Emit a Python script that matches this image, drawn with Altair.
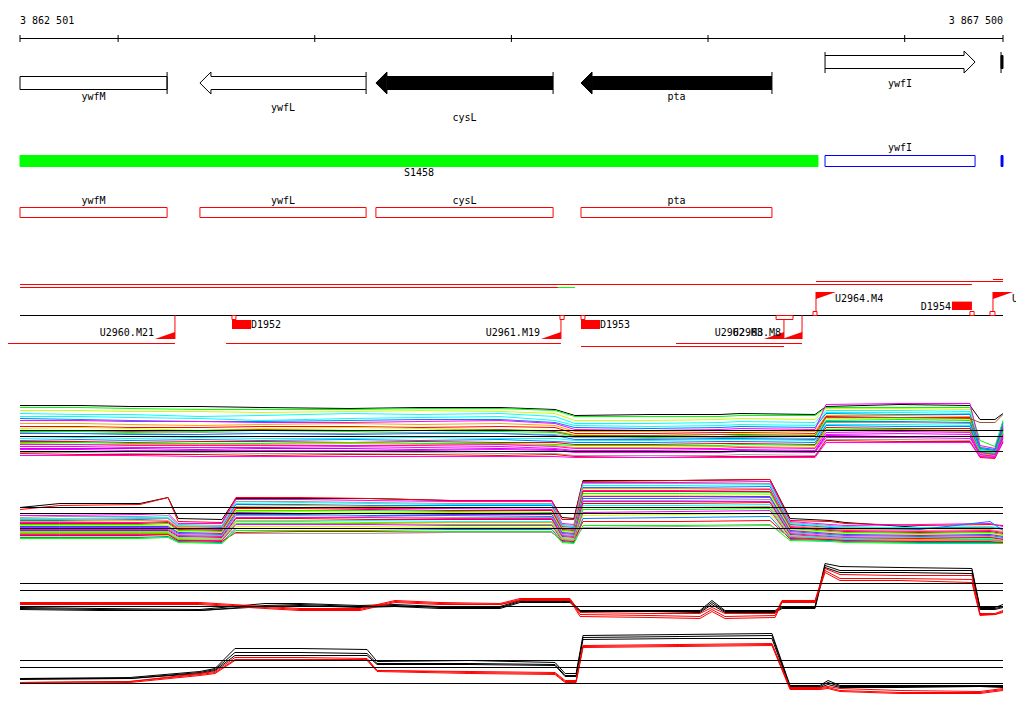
import altair as alt
import pandas as pd

# ---------------- data ----------------
VIEW_START, VIEW_END = 3862501, 3867500
axis_ticks = [3862501, 3863000, 3864000, 3865000, 3866000, 3867000, 3867500]

gene_names  = ["ywfM", "ywfL", "cysL", "pta", "ywfI", ""]
gene_starts = [3862501, 3863416, 3864311, 3865354, 3866595, 3867490]
gene_ends   = [3863249, 3864261, 3865212, 3866325, 3867358, 3867500]
gene_strand = ["-", "-", "-", "-", "+", "+"]
gene_kind   = ["open", "open", "solid", "solid", "open", "solid"]

seg_names  = ["S1458", "ywfI", ""]
seg_starts = [3862501, 3866595, 3867490]
seg_ends   = [3866559, 3867358, 3867500]
seg_kind   = ["segment", "cds", "cds_cut"]

box_names  = ["ywfM", "ywfL", "cysL", "pta"]
box_starts = [3862501, 3863416, 3864311, 3865354]
box_ends   = [3863249, 3864261, 3865212, 3866325]

tu_starts = [3862501, 3862501, 3865237, 3866549, 3867449, 3862380, 3863549, 3865354, 3865837]
tu_ends   = [3867342, 3865237, 3865323, 3867500, 3867500, 3863289, 3865252, 3866386, 3866478]
tu_lane   = ["up2", "up3", "up3", "up1", "up0", "dn1", "dn1", "dn2", "dn1"]
tu_class  = ["a", "a", "b", "a", "a", "a", "a", "a", "a"]

site_starts = [3863579, 3865247, 3865354, 3866346, 3866534, 3867332, 3867434]
site_ends   = [3863599, 3865268, 3865374, 3866432, 3866554, 3867353, 3867459]
site_strand = ["-", "-", "-", "-", "+", "+", "+"]

flag_names  = ["U2960.M21", "U2961.M19", "U2962.M8", "U2963.M8", "U2964.M4", "U2965.M1"]
flag_pos    = [3863289, 3865252, 3866386, 3866478, 3866549, 3867449]
flag_strand = ["-", "-", "-", "-", "+", "+"]

term_names  = ["D1952", "D1953", "D1954"]
term_pos    = [3863579, 3865354, 3867342]
term_strand = ["-", "-", "+"]

# ---- profile track A ----
gridA = [3862501, 3862806, 3863060, 3863416, 3863722, 3864179, 3864535, 3864942, 3865222, 3865323,
         3865705, 3866061, 3866163, 3866544, 3866600, 3866976, 3867332, 3867383, 3867459, 3867500]
valsA = [
    [55, 55, 54, 54, 53, 52, 53, 53, 51, 45, 46, 46, 47, 46, 54, 56, 55, 41, 41, 47],
    [53, 53, 52, 51, 51, 51, 52, 52, 50, 44, 44, 44, 45, 45, 53, 53, 53, 20, 14, 40],
    [50, 50, 49, 49, 48, 49, 50, 49, 47, 40, 40, 41, 42, 41, 52, 52, 51, 14, 10, 38],
    [47, 46, 46, 44, 45, 47, 46, 47, 44, 37, 37, 38, 39, 38, 50, 50, 49, 12, 10, 36],
    [44, 44, 43, 42, 40, 42, 43, 44, 40, 35, 34, 35, 36, 35, 48, 48, 47, 10, 8, 34],
    [42, 41, 40, 39, 39, 40, 41, 41, 38, 33, 32, 33, 34, 33, 47, 46, 46, 13, 11, 33],
    [40, 40, 39, 39, 38, 38, 39, 40, 37, 31, 30, 31, 32, 31, 56, 57, 57, 15, 12, 35],
    [37, 37, 36, 35, 36, 37, 36, 37, 35, 29, 29, 30, 30, 29, 45, 45, 44, 8, 6, 30],
    [34, 34, 33, 33, 34, 34, 33, 34, 33, 27, 27, 28, 28, 27, 44, 43, 43, 9, 7, 32],
    [32, 33, 32, 30, 32, 33, 32, 31, 30, 26, 25, 26, 27, 26, 42, 42, 41, 7, 5, 28],
    [29, 29, 28, 29, 30, 29, 28, 29, 28, 24, 23, 24, 25, 24, 40, 41, 40, 11, 9, 30],
    [28, 27, 27, 28, 27, 27, 28, 27, 26, 23, 22, 23, 23, 22, 38, 38, 37, 6, 5, 27],
    [22, 23, 22, 23, 22, 22, 23, 22, 22, 20, 20, 21, 21, 20, 36, 36, 35, 10, 8, 29],
    [20, 21, 20, 21, 20, 21, 20, 21, 19, 18, 18, 19, 19, 18, 35, 34, 34, 8, 6, 31],
    [19, 19, 18, 19, 19, 18, 19, 18, 18, 16, 16, 17, 17, 16, 33, 32, 32, 5, 4, 26],
    [18, 18, 17, 17, 17, 18, 17, 17, 16, 15, 15, 15, 16, 15, 31, 31, 30, 9, 7, 28],
    [17, 16, 16, 16, 16, 17, 16, 16, 15, 13, 13, 14, 14, 13, 30, 30, 29, 7, 5, 25],
    [16, 16, 15, 15, 15, 15, 15, 16, 14, 12, 12, 12, 13, 12, 28, 29, 28, 6, 4, 24],
    [14, 14, 13, 13, 13, 14, 13, 14, 12, 10, 10, 11, 11, 10, 26, 27, 26, 5, 4, 23],
    [12, 12, 12, 11, 12, 12, 11, 12, 11, 9, 9, 9, 10, 9, 25, 24, 24, 4, 3, 22],
    [11, 11, 10, 10, 10, 10, 10, 11, 10, 8, 8, 8, 9, 8, 23, 23, 22, 8, 6, 26],
    [8, 8, 7, 8, 7, 7, 8, 7, 7, 5, 5, 5, 6, 5, 21, 21, 20, 5, 3, 20],
    [7, 6, 6, 6, 5, 6, 6, 5, 6, 4, 3, 4, 4, 4, 20, 19, 19, 3, 2, 19],
    [5, 5, 5, 4, 4, 4, 4, 4, 4, 3, 3, 3, 3, 3, 18, 18, 18, 4, 3, 18],
    [30, 30, 29, 30, 31, 30, 30, 31, 29, 25, 25, 26, 26, 25, 43, 43, 42, 38, 38, 46],
    [27, 27, 26, 26, 27, 26, 27, 27, 25, 21, 21, 22, 22, 21, 39, 39, 38, 12, 10, 38],
]
colorsA = ["black", "#00ff00", "#ccff00", "#00ffff", "#00ffff", "#0080ff", "#ff00ff", "#ffa500",
           "#ff0000", "#ccff00", "#00ff00", "#a0a0a0", "#00ffff", "#0080ff", "#ff0000", "#00ff00",
           "#ffa500", "#ff00ff", "#ff00ff", "#c000ff", "#ff00ff", "#a0a0a0", "#ff0000", "#ff00ff",
           "#a0522d", "#0080ff"]
refA = [30, 24, 9]

# ---- profile track B ----
gridB = [3862501, 3862704, 3863111, 3863254, 3863305, 3863528, 3863599, 3863925, 3864281, 3864688, 3865206,
         3865257, 3865318, 3865364, 3865857, 3866315, 3866417, 3866620, 3866697, 3867078, 3867434, 3867500]
valsB = [
    [38, 42, 42, 48, 27, 26, 47, 47, 47, 45, 44, 28, 27, 65, 65, 66, 27, 25, 23, 18, 18, 17],
    [36, 40, 41, 48, 24, 23, 48, 48, 47, 45, 45, 26, 26, 64, 65, 66, 25, 24, 22, 20, 21, 20],
    [30, 30, 31, 32, 22, 22, 46, 46, 45, 44, 44, 22, 21, 63, 63, 64, 24, 21, 20, 21, 22, 19],
    [28, 29, 29, 30, 21, 20, 44, 44, 43, 42, 42, 21, 20, 62, 62, 62, 23, 20, 19, 17, 18, 16],
    [27, 27, 28, 28, 20, 19, 42, 43, 42, 41, 41, 20, 19, 60, 60, 61, 22, 19, 18, 18, 19, 17],
    [25, 25, 26, 27, 19, 18, 41, 41, 40, 40, 40, 19, 18, 58, 58, 59, 21, 18, 17, 16, 24, 15],
    [24, 24, 25, 25, 18, 17, 39, 40, 39, 38, 38, 18, 17, 57, 57, 57, 20, 17, 16, 15, 16, 14],
    [23, 23, 23, 24, 17, 16, 38, 38, 37, 37, 36, 17, 16, 55, 55, 56, 19, 16, 15, 14, 15, 13],
    [22, 22, 22, 23, 16, 15, 37, 37, 36, 35, 35, 16, 15, 54, 54, 54, 18, 15, 14, 13, 14, 12],
    [21, 21, 21, 22, 15, 14, 35, 35, 35, 34, 33, 15, 14, 52, 52, 53, 17, 14, 13, 12, 13, 11],
    [20, 20, 20, 20, 14, 13, 34, 34, 33, 33, 32, 14, 13, 50, 50, 51, 16, 13, 12, 11, 12, 10],
    [19, 19, 19, 19, 13, 12, 33, 32, 32, 31, 31, 13, 12, 49, 49, 49, 15, 12, 11, 10, 11, 9],
    [18, 18, 18, 18, 12, 11, 31, 31, 30, 30, 29, 12, 11, 47, 47, 48, 14, 11, 10, 9, 10, 8],
    [17, 17, 17, 17, 11, 10, 30, 30, 29, 28, 28, 11, 10, 45, 45, 46, 13, 10, 9, 8, 9, 7],
    [16, 16, 16, 16, 10, 9, 28, 28, 28, 27, 27, 10, 9, 44, 44, 44, 12, 9, 8, 7, 8, 6],
    [15, 15, 15, 15, 9, 8, 27, 27, 26, 26, 26, 9, 8, 42, 42, 43, 11, 8, 7, 7, 8, 6],
    [14, 14, 14, 14, 8, 7, 25, 25, 25, 24, 24, 8, 7, 40, 40, 41, 10, 8, 7, 6, 7, 5],
    [13, 13, 13, 13, 7, 6, 24, 24, 23, 23, 23, 7, 6, 38, 38, 39, 9, 7, 6, 6, 6, 5],
    [12, 12, 12, 12, 6, 5, 22, 22, 22, 21, 21, 6, 5, 36, 36, 37, 8, 6, 5, 5, 6, 4],
    [11, 11, 11, 11, 5, 5, 21, 21, 21, 20, 20, 5, 4, 33, 34, 35, 8, 6, 5, 4, 5, 4],
    [9, 9, 9, 10, 4, 3, 19, 19, 19, 18, 18, 4, 3, 30, 31, 32, 7, 5, 4, 3, 4, 3],
    [8, 8, 8, 9, 4, 3, 17, 17, 17, 16, 16, 4, 3, 27, 28, 29, 6, 5, 4, 3, 3, 3],
    [10, 10, 10, 11, 5, 4, 13, 14, 14, 13, 13, 5, 4, 24, 24, 25, 7, 6, 5, 4, 4, 3],
    [7, 7, 7, 8, 3, 2, 15, 15, 15, 14, 14, 3, 2, 20, 20, 21, 5, 4, 3, 2, 2, 2],
    [26, 26, 27, 27, 19, 19, 12, 12, 12, 13, 13, 6, 5, 18, 19, 20, 9, 7, 6, 5, 5, 4],
]
colorsB = ["black", "#ff0000", "#ff00ff", "#a0a0a0", "#00ffff", "#0080ff", "#ffa500", "#ff00ff",
           "#ff0000", "#00ff00", "#ccff00", "#c000ff", "#0080ff", "#a0a0a0", "#ff00ff", "#ff0000",
           "#00ffff", "#ffa500", "#00ff00", "#ff00ff", "#ccff00", "#0080ff", "#ff0000", "#00ff00",
           "#a0a0a0"]
refB = [38, 32, 17]

# ---- profile track C ----
gridC = [3862501, 3862908, 3863416, 3863747, 3863925, 3864230, 3864408, 3864637, 3864942, 3865044,
         3865298, 3865349, 3865705, 3865959, 3866020, 3866086, 3866341, 3866376, 3866544, 3866595,
         3866671, 3866976, 3867342, 3867383, 3867459, 3867500]
valsC = [
    [13, 12, 11, 17, 17, 15, 16, 14, 14, 20, 20, 10, 10, 10, 20, 10, 10, 14, 14, 57, 54, 53, 52, 13, 13, 16],
    [12, 11, 10, 15, 16, 14, 15, 13, 13, 19, 19, 10, 9, 9, 18, 9, 9, 13, 13, 55, 50, 50, 50, 12, 12, 14],
    [11, 10, 10, 14, 15, 13, 14, 12, 12, 18, 18, 9, 9, 8, 16, 8, 8, 12, 12, 53, 48, 48, 47, 11, 11, 13],
    [18, 18, 18, 14, 12, 12, 20, 18, 17, 22, 22, 8, 7, 7, 13, 7, 7, 20, 20, 52, 46, 45, 45, 7, 7, 10],
    [17, 17, 17, 13, 11, 11, 19, 17, 16, 21, 21, 6, 5, 4, 11, 4, 5, 19, 19, 50, 42, 42, 41, 6, 6, 9],
    [16, 16, 16, 12, 10, 10, 18, 16, 16, 20, 20, 4, 3, 2, 9, 2, 3, 18, 18, 48, 40, 40, 38, 5, 6, 8],
]
colorsC = ["black", "black", "black", "#ff0000", "#ff0000", "#ff0000"]
refC = [37, 30, 14]

# ---- profile track D ----
gridD = [3862501, 3863060, 3863416, 3863493, 3863594, 3863925, 3864266, 3864317, 3864789, 3865222, 3865273,
         3865329, 3865364, 3865857, 3866325, 3866417, 3866569, 3866610, 3866671, 3866976, 3867383, 3867500]
valsD = [
    [17, 18, 24, 27, 47, 47, 46, 34, 35, 33, 22, 22, 60, 61, 62, 10, 10, 15, 10, 10, 10, 10],
    [17, 17, 23, 26, 43, 43, 42, 32, 32, 31, 20, 20, 58, 59, 60, 9, 9, 13, 9, 9, 9, 9],
    [16, 17, 22, 25, 40, 40, 40, 31, 31, 30, 19, 19, 56, 57, 57, 8, 8, 11, 8, 8, 9, 8],
    [13, 14, 22, 24, 38, 38, 37, 25, 24, 23, 15, 15, 50, 51, 52, 8, 8, 9, 7, 5, 4, 7],
    [13, 14, 21, 23, 36, 36, 36, 25, 23, 22, 14, 14, 49, 50, 51, 7, 7, 8, 5, 3, 3, 6],
    [12, 13, 20, 22, 35, 35, 35, 24, 22, 21, 13, 13, 48, 49, 50, 6, 6, 7, 4, 2, 2, 5],
]
colorsD = ["black", "black", "black", "#ff0000", "#ff0000", "#ff0000"]
refD = [35, 28, 12]

# ---------------- layout / style ----------------
W, H = 1008, 698
FONT = "DejaVu Sans Mono"
FS = 10
xs = alt.Scale(domain=[VIEW_START, VIEW_END], range=[12, 995])


def X(field):
    return alt.X(f"{field}:Q", scale=xs, axis=None)


def fmt(n):
    return f"{n:,}".replace(",", " ")


layers = []

# ---- coordinate ruler ----
span = pd.DataFrame({"a": [VIEW_START], "b": [VIEW_END]})
layers.append(alt.Chart(span).mark_rule(color="black").encode(x=X("a"), x2="b:Q", y=alt.value(30.5)))
layers.append(alt.Chart(pd.DataFrame({"pos": axis_ticks})).mark_rule(color="black").encode(
    x=X("pos"), y=alt.value(27), y2=alt.value(34)))
ends = pd.DataFrame({"pos": [VIEW_START, VIEW_END], "label": [fmt(VIEW_START), fmt(VIEW_END)]})
layers.append(alt.Chart(ends.iloc[[0]]).mark_text(font=FONT, fontSize=FS, align="left", baseline="alphabetic",
                                                   color="black").encode(x=X("pos"), y=alt.value(16), text="label:N"))
layers.append(alt.Chart(ends.iloc[[1]]).mark_text(font=FONT, fontSize=FS, align="right", baseline="alphabetic",
                                                   color="black").encode(x=X("pos"), y=alt.value(16), text="label:N"))

# ---- genes ----
genes = pd.DataFrame({"name": gene_names, "start": gene_starts, "end": gene_ends,
                      "strand": gene_strand, "kind": gene_kind})
genes["mid"] = (genes["start"] + genes["end"]) / 2
fill_kind = alt.Fill("kind:N", scale=alt.Scale(domain=["open", "solid"], range=["white", "black"]), legend=None)
HEAD = 11
LEFT_HEAD = "M1,-0.6 L1,-1 L0,0 L1,1 L1,0.6"
RIGHT_HEAD = "M-1,-0.6 L-1,-1 L0,0 L-1,1 L-1,0.6"
lanes = {"-": dict(top=68.5, bot=81.5, btop=64, bbot=86, c=75),
         "+": dict(top=47.5, bot=60.5, btop=44, bbot=65, c=54)}

for strand in ["-", "+"]:
    L = lanes[strand]
    g = genes[genes["strand"] == strand]
    if strand == "-":
        headed = g[g["start"] > VIEW_START]
        cut = g[g["start"] <= VIEW_START]
        tip, bar, shape, offs = "start", "end", LEFT_HEAD, dict(xOffset=HEAD)
    else:
        headed = g[g["end"] < VIEW_END]
        cut = g[g["end"] >= VIEW_END]
        tip, bar, shape, offs = "end", "start", RIGHT_HEAD, dict(x2Offset=-HEAD)
    if len(headed):
        layers.append(alt.Chart(headed).mark_rect(strokeWidth=0, **offs).encode(
            x=X("start"), x2="end:Q", y=alt.value(L["top"]), y2=alt.value(L["bot"]), fill=fill_kind))
        for yy in (L["top"], L["bot"]):
            layers.append(alt.Chart(headed).mark_rule(color="black", **offs).encode(
                x=X("start"), x2="end:Q", y=alt.value(yy)))
        layers.append(alt.Chart(headed).mark_point(shape=shape, size=(2 * HEAD) ** 2, filled=True, opacity=1,
                                                   stroke="black", strokeWidth=1).encode(
            x=X(tip), y=alt.value(L["c"]), fill=fill_kind))
    if len(cut):
        layers.append(alt.Chart(cut).mark_rect(stroke="black", strokeWidth=1).encode(
            x=X("start"), x2="end:Q", y=alt.value(L["top"]), y2=alt.value(L["bot"]), fill=fill_kind))
    layers.append(alt.Chart(g).mark_rule(color="black", strokeWidth=1).encode(
        x=X(bar), y=alt.value(L["btop"]), y2=alt.value(L["bbot"])))

gene_label_base = {"ywfM": 92, "ywfL": 103, "cysL": 113, "pta": 92, "ywfI": 79}
for nm, yy in gene_label_base.items():
    layers.append(alt.Chart(genes[genes["name"] == nm]).mark_text(
        font=FONT, fontSize=FS, baseline="alphabetic", color="black").encode(
        x=X("mid"), y=alt.value(yy), text="name:N"))

# ---- segment track ----
segs = pd.DataFrame({"name": seg_names, "start": seg_starts, "end": seg_ends, "kind": seg_kind})
segs["mid"] = (segs["start"] + segs["end"]) / 2
layers.append(alt.Chart(segs).mark_rect(strokeWidth=1).encode(
    x=X("start"), x2="end:Q", y=alt.value(147.5), y2=alt.value(158.5),
    fill=alt.Fill("kind:N", scale=alt.Scale(domain=["segment", "cds", "cds_cut"],
                                            range=["#00ff00", "white", "#0000ff"]), legend=None),
    stroke=alt.Stroke("kind:N", scale=alt.Scale(domain=["segment", "cds", "cds_cut"],
                                                range=["#00ff00", "#0000ff", "#0000ff"]), legend=None)))
seg_label_base = {"S1458": 168, "ywfI": 143}
for nm, yy in seg_label_base.items():
    layers.append(alt.Chart(segs[segs["name"] == nm]).mark_text(
        font=FONT, fontSize=FS, baseline="alphabetic", color="black").encode(
        x=X("mid"), y=alt.value(yy), text="name:N"))

# ---- red CDS boxes ----
boxes = pd.DataFrame({"name": box_names, "start": box_starts, "end": box_ends})
boxes["mid"] = (boxes["start"] + boxes["end"]) / 2
layers.append(alt.Chart(boxes).mark_rect(fill="white", stroke="#ff0000", strokeWidth=1).encode(
    x=X("start"), x2="end:Q", y=alt.value(199.5), y2=alt.value(209.5)))
layers.append(alt.Chart(boxes).mark_text(font=FONT, fontSize=FS, baseline="alphabetic", color="black").encode(
    x=X("mid"), y=alt.value(196), text="name:N"))

# ---- transcription units ----
tus = pd.DataFrame({"start": tu_starts, "end": tu_ends, "lane": tu_lane, "cls": tu_class})
lane_y = {"up0": 271.5, "up1": 273.5, "up2": 276.5, "up3": 279.5, "dn1": 335.5, "dn2": 338.5}
for ln, yy in lane_y.items():
    sub = tus[tus["lane"] == ln]
    layers.append(alt.Chart(sub).mark_rule(strokeWidth=1).encode(
        x=X("start"), x2="end:Q", y=alt.value(yy),
        color=alt.Color("cls:N", scale=alt.Scale(domain=["a", "b"], range=["#ff0000", "#00ff00"]), legend=None)))

# ---- regulatory track ----
layers.append(alt.Chart(span).mark_rule(color="black").encode(x=X("a"), x2="b:Q", y=alt.value(307.5)))
flags = pd.DataFrame({"name": flag_names, "pos": flag_pos, "strand": flag_strand})
terms = pd.DataFrame({"name": term_names, "pos": term_pos, "strand": term_strand})
sites = pd.DataFrame({"start": site_starts, "end": site_ends, "strand": site_strand})

fm, fp = flags[flags["strand"] == "-"], flags[flags["strand"] == "+"]
layers.append(alt.Chart(fm).mark_rule(color="#ff0000").encode(x=X("pos"), y=alt.value(307), y2=alt.value(331)))
layers.append(alt.Chart(fp).mark_rule(color="#ff0000").encode(x=X("pos"), y=alt.value(284), y2=alt.value(308)))
layers.append(alt.Chart(fm).mark_point(shape="M0,0 L-1,0 L0,-0.35 Z", size=1600, filled=True, opacity=1,
                                       color="#ff0000", strokeWidth=0).encode(x=X("pos"), y=alt.value(331)))
layers.append(alt.Chart(fp).mark_point(shape="M0,0 L1,0 L0,0.35 Z", size=1600, filled=True, opacity=1,
                                       color="#ff0000", strokeWidth=0).encode(x=X("pos"), y=alt.value(284)))
layers.append(alt.Chart(fm).mark_text(font=FONT, fontSize=FS, align="right", baseline="alphabetic", dx=-21,
                                      color="black").encode(x=X("pos"), y=alt.value(328), text="name:N"))
layers.append(alt.Chart(fp).mark_text(font=FONT, fontSize=FS, align="left", baseline="alphabetic", dx=19,
                                      color="black").encode(x=X("pos"), y=alt.value(293.5), text="name:N"))

tm, tp = terms[terms["strand"] == "-"], terms[terms["strand"] == "+"]
layers.append(alt.Chart(tm).mark_point(shape="M0,0 L0.95,0 L0.95,0.45 L0,0.45 Z", size=1600, filled=True,
                                       opacity=1, color="#ff0000", strokeWidth=0).encode(
    x=X("pos"), y=alt.value(312)))
layers.append(alt.Chart(tp).mark_point(shape="M0,0 L-1,0 L-1,-0.42 L0,-0.42 Z", size=1600, filled=True,
                                       opacity=1, color="#ff0000", strokeWidth=0).encode(
    x=X("pos"), y=alt.value(302)))
layers.append(alt.Chart(tm).mark_text(font=FONT, fontSize=FS, align="left", baseline="alphabetic", dx=19,
                                      color="black").encode(x=X("pos"), y=alt.value(320), text="name:N"))
layers.append(alt.Chart(tp).mark_text(font=FONT, fontSize=FS, align="right", baseline="alphabetic", dx=-21,
                                      color="black").encode(x=X("pos"), y=alt.value(302), text="name:N"))

sm, sp = sites[sites["strand"] == "-"], sites[sites["strand"] == "+"]
layers.append(alt.Chart(sm).mark_rect(fill="white", stroke="#ff0000", strokeWidth=1).encode(
    x=X("start"), x2="end:Q", y=alt.value(307.5), y2=alt.value(311.5)))
layers.append(alt.Chart(sp).mark_rect(fill="white", stroke="#ff0000", strokeWidth=1).encode(
    x=X("start"), x2="end:Q", y=alt.value(303.5), y2=alt.value(307.5)))


# ---- profile tracks ----
def profile(grid, vals, colors, refs, domain, yrange, tag):
    for row in vals:
        assert len(row) == len(grid), (tag, len(row), len(grid))
    names = [f"{tag}{i:02d}" for i in range(len(vals))]
    recs = [{"pos": p, "val": v, "series": n} for n, row in zip(names, vals) for p, v in zip(grid, row)]
    df = pd.DataFrame(recs)
    ys = alt.Scale(domain=domain, range=yrange, zero=False, nice=False)
    lines = alt.Chart(df).mark_line(strokeWidth=1, opacity=1).encode(
        x=X("pos"), y=alt.Y("val:Q", scale=ys, axis=None),
        color=alt.Color("series:N", scale=alt.Scale(domain=names, range=colors), legend=None),
        order=alt.Order("pos:Q"))
    rdf = pd.DataFrame({"val": refs, "a": VIEW_START, "b": VIEW_END})
    rules = alt.Chart(rdf).mark_rule(color="black", strokeWidth=1).encode(
        x=X("a"), x2="b:Q", y=alt.Y("val:Q", scale=ys, axis=None))
    return alt.layer(lines, rules)


layers.append(profile(gridA, valsA, colorsA, refA, [0, 60], [452.5, 392.5], "A"))
layers.append(profile(gridB, valsB, colorsB, refB, [0, 70], [537.5, 467.5], "B"))
layers.append(profile(gridC, valsC, colorsC, refC, [0, 60], [612.5, 552.5], "C"))
layers.append(profile(gridD, valsD, colorsD, refD, [0, 65], [687.5, 622.5], "D"))

chart = alt.layer(*layers).resolve_scale(
    y="independent", color="independent", fill="independent", stroke="independent"
).properties(
    width=W, height=H, autosize=alt.AutoSizeParams(type="none"), padding=0, background="white"
).configure_view(stroke=None)

chart.save("out.html", embed_options={"renderer": "svg", "actions": False})
